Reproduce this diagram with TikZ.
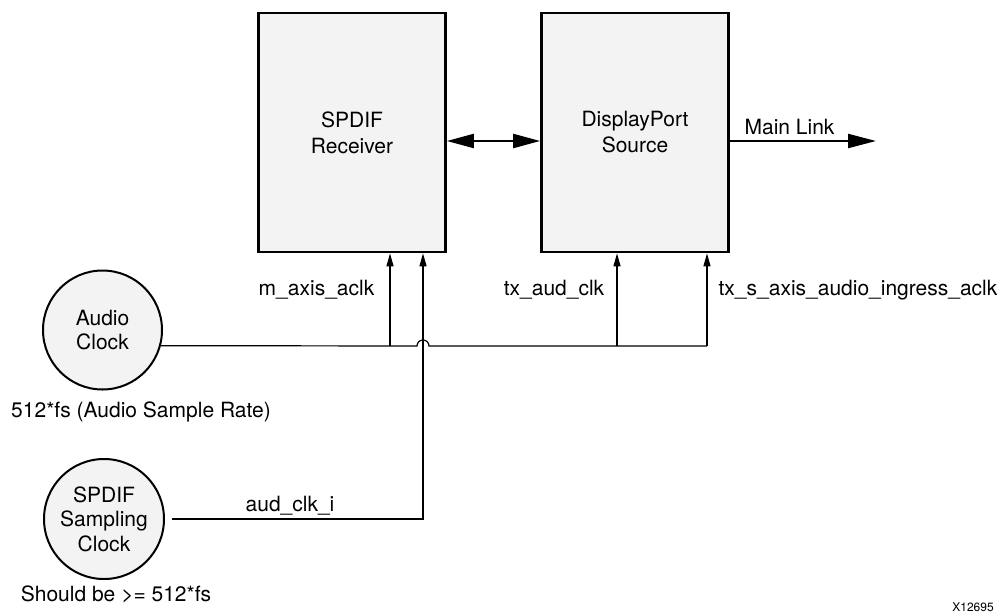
\documentclass[tikz,border=0pt]{standalone}
\usepackage{fontspec}
\setmainfont{TeX Gyre Heros}
\usetikzlibrary{arrows.meta}
\definecolor{boxgray}{HTML}{F3F3F3}
\begin{document}
\begin{tikzpicture}[x=1pt,y=-1pt,
  blk/.style={draw,line width=2.7pt,fill=boxgray,minimum width=187pt,minimum height=239pt,inner sep=0pt,align=center,font=\fontsize{21}{26}\selectfont},
  clk/.style={circle,draw,line width=2pt,fill=boxgray,minimum size=119pt,inner sep=0pt,align=center,font=\fontsize{21}{24.5}\selectfont},
  lbl/.style={inner sep=0pt,font=\fontsize{21}{25}\selectfont},
  wire/.style={line width=1.2pt},
  clkarrow/.style={wire,-{Triangle[length=13pt,width=7pt]}},
  bus/.style={line width=2.2pt}]
\useasboundingbox (0,0) rectangle (1003,613);
% blocks
\node[blk] (rx) at (352,132.5) {SPDIF\\Receiver};
\node[blk] (dp) at (635,132.5) {DisplayPort\\Source};
% clocks
\node[clk] (c1) at (102.5,330) {Audio\\Clock};
\node[clk,minimum size=120pt] (c2) at (104,519) {SPDIF\\Sampling\\Clock};
% bus arrows
\draw[bus,{Triangle[length=27pt,width=14pt]}-{Triangle[length=27pt,width=14pt]}]
  ([yshift=-8.5pt]rx.east) -- ([yshift=-8.5pt]dp.west);
\coordinate (ml) at (876,141);
\draw[bus,-{Triangle[length=28pt,width=14pt]}] ([yshift=-8.5pt]dp.east) -- (ml);
\node[lbl] (mltxt) at (789.5,127) {Main Link};
% clock tree
\coordinate (a1) at (390,346);
\coordinate (a2) at (423,346);
\coordinate (a3) at (617,346);
\coordinate (a4) at (707,346);
\coordinate (jl) at (417,346);
\coordinate (s2) at (423,519);
\draw[wire] (c1.-15.5) -- (jl) arc(180:360:6) -- (a4);
\draw[clkarrow] (a1) -- (a1 |- rx.south);
\draw[clkarrow] (a3) -- (a3 |- dp.south);
\draw[clkarrow] (a4) -- (a4 |- dp.south);
\draw[clkarrow] ([xshift=7pt]c2.east) -- (s2) -- (a2 |- rx.south);
% labels
\node[lbl] (l1) at (316.5,290) {m\_axis\_aclk};
\node[lbl] (l2) at (554,290) {tx\_aud\_clk};
\node[lbl] (l3) at (858,290) {tx\_s\_axis\_audio\_ingress\_aclk};
\node[lbl] (l4) at (141,412) {512*fs (Audio Sample Rate)};
\node[lbl] (l5) at (290,506) {aud\_clk\_i};
\node[lbl] (l6) at (116,594) {Should be >= 512*fs};
\node[inner sep=0pt,font=\fontsize{12}{14}\selectfont] (fig) at (973,607) {X12695};
\end{tikzpicture}
\end{document}
